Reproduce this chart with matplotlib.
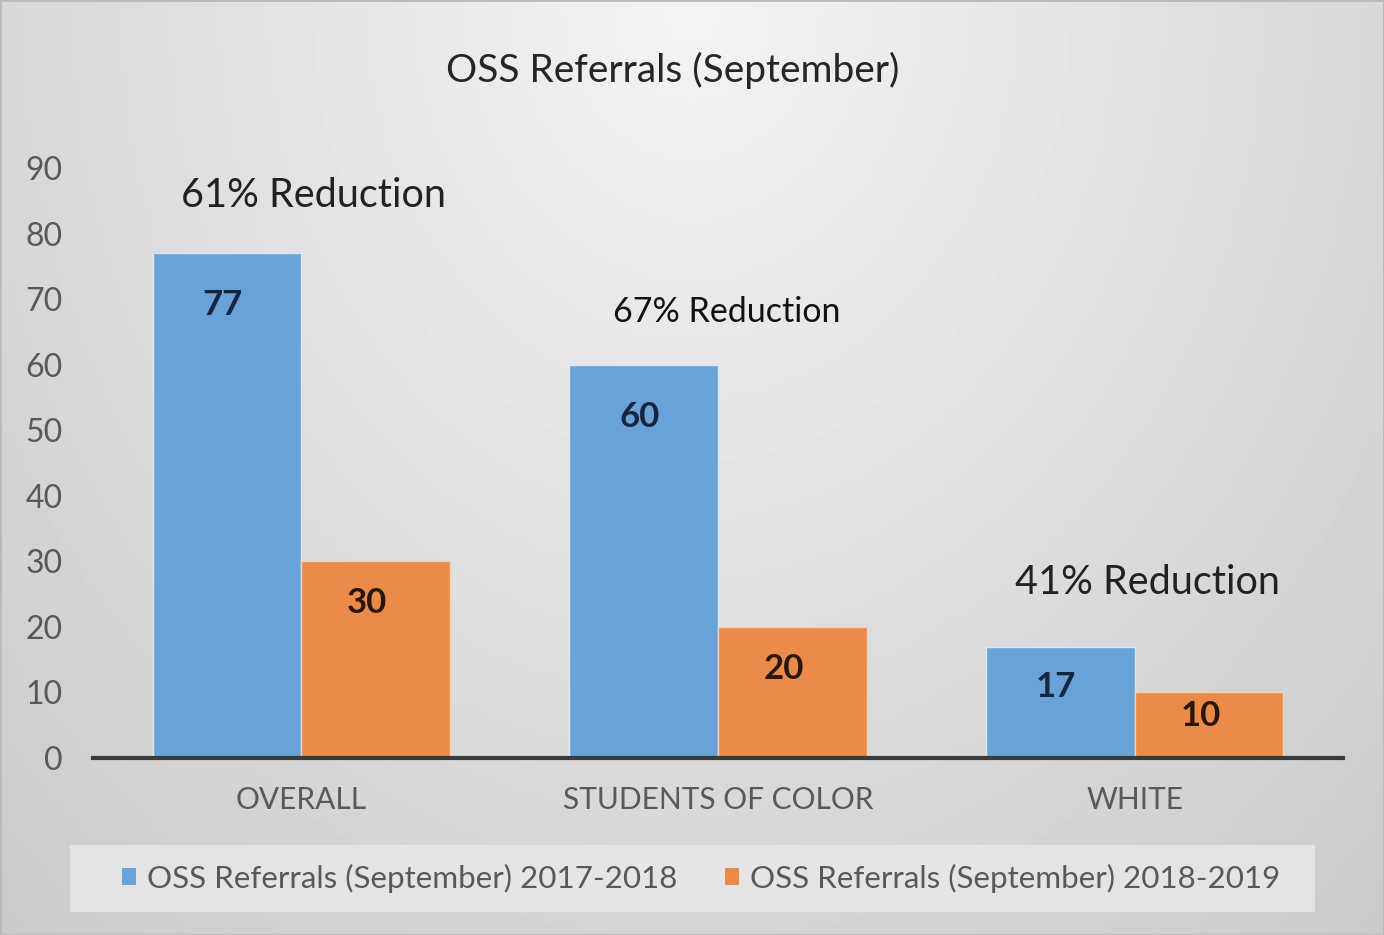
import numpy as np
import matplotlib.pyplot as plt
from matplotlib.patches import Patch, Rectangle

plt.rcParams['font.family'] = ['Lato', 'DejaVu Sans']

categories = ["OVERALL", "STUDENTS OF COLOR", "WHITE"]
series_names = ["OSS Referrals (September) 2017-2018", "OSS Referrals (September) 2018-2019"]
values_1718 = [77, 60, 17]
values_1819 = [30, 20, 10]
reductions = ["61% Reduction", "67% Reduction", "41% Reduction"]
title = "OSS Referrals (September)"

blue = "#69A2D8"
orange = "#EC8A49"
tick_grey = "#595959"

W, H = 1384, 935
fig = plt.figure(figsize=(W / 100, H / 100), dpi=100)

# gray background, lighter at top centre
bg = fig.add_axes([0, 0, 1, 1], zorder=-10)
gx, gy = np.meshgrid(np.linspace(-1, 1, 400), np.linspace(0, 1, 300))
r = np.sqrt((gx * 0.9) ** 2 + (gy * 1.0) ** 2)
r = np.clip(r / 1.35, 0, 1)
light, dark = 0.955, 0.79
bg.imshow(light + (dark - light) * r, cmap="gray", vmin=0, vmax=1,
          extent=[0, 1, 0, 1], aspect="auto", origin="upper")
# legend panel
bg.add_patch(Rectangle((70 / W, 1 - 912 / H), 1245 / W, 67 / H, facecolor="#e8e8e8",
                       edgecolor="none", alpha=0.85))
bg.add_patch(Rectangle((0, 0), 1, 1, facecolor="none", edgecolor="#b9b9b9", linewidth=2))
bg.set_xlim(0, 1)
bg.set_ylim(0, 1)
bg.set_axis_off()

ax = fig.add_axes([93 / W, 1 - 758 / H, 1250 / W, 590 / H])
ax.patch.set_alpha(0)

x = np.arange(len(categories))
w = 0.357
b1 = ax.bar(x - w / 2, values_1718, w, color=blue, edgecolor="#dbe8f5", linewidth=1.0)
b2 = ax.bar(x + w / 2, values_1819, w, color=orange, edgecolor="#f3d2bb", linewidth=1.0)

ax.set_xlim(-0.5, 2.5)
ax.set_ylim(0, 90)
ax.set_yticks(range(0, 91, 10))
ax.set_xticks(x)
ax.set_xticklabels(categories)
ax.tick_params(axis="y", length=0, pad=22, labelsize=23, labelcolor=tick_grey)
ax.tick_params(axis="x", length=0, pad=20, labelsize=21.5, labelcolor=tick_grey)
for s in ["top", "right", "left"]:
    ax.spines[s].set_visible(False)
ax.spines["bottom"].set_color("#3a3a3a")
ax.spines["bottom"].set_linewidth(3)
ax.spines["bottom"].set_zorder(5)

px_per_unit = 590 / 90
for bars, vals, col, off, dx in [(b1, values_1718, "#17263f", 52, -3), (b2, values_1819, "#2a1606", 42, -6)]:
    for bar, v in zip(bars, vals):
        d = min(off, 0.36 * v * px_per_unit) * 72 / 100
        ax.annotate(str(v), (bar.get_x() + bar.get_width() / 2, v),
                    xytext=(dx, -d), textcoords="offset points",
                    ha="center", va="center", fontsize=25, fontweight="bold", color=col)

ax.text(0.03, 85.8, reductions[0], ha="center", va="center", fontsize=28.5, color="#222222")
ax.text(1.02, 68.1, reductions[1], ha="center", va="center", fontsize=24.5, color="#111111")
ax.text(2.03, 26.8, reductions[2], ha="center", va="center", fontsize=28.5, color="#222222")

fig.text(673 / W, 1 - 70 / H, title, ha="center", va="center", fontsize=28, color="#262626")

handles = [Patch(facecolor=blue), Patch(facecolor=orange)]
leg = fig.legend(handles, series_names, loc="center", bbox_to_anchor=(701 / W, 1 - 878 / H),
                 ncol=2, fontsize=22.6, frameon=False, handlelength=0.45,
                 handleheight=0.45, handletextpad=0.36, columnspacing=1.5)
for t in leg.get_texts():
    t.set_color(tick_grey)

fig.savefig("out.png", dpi=100)
